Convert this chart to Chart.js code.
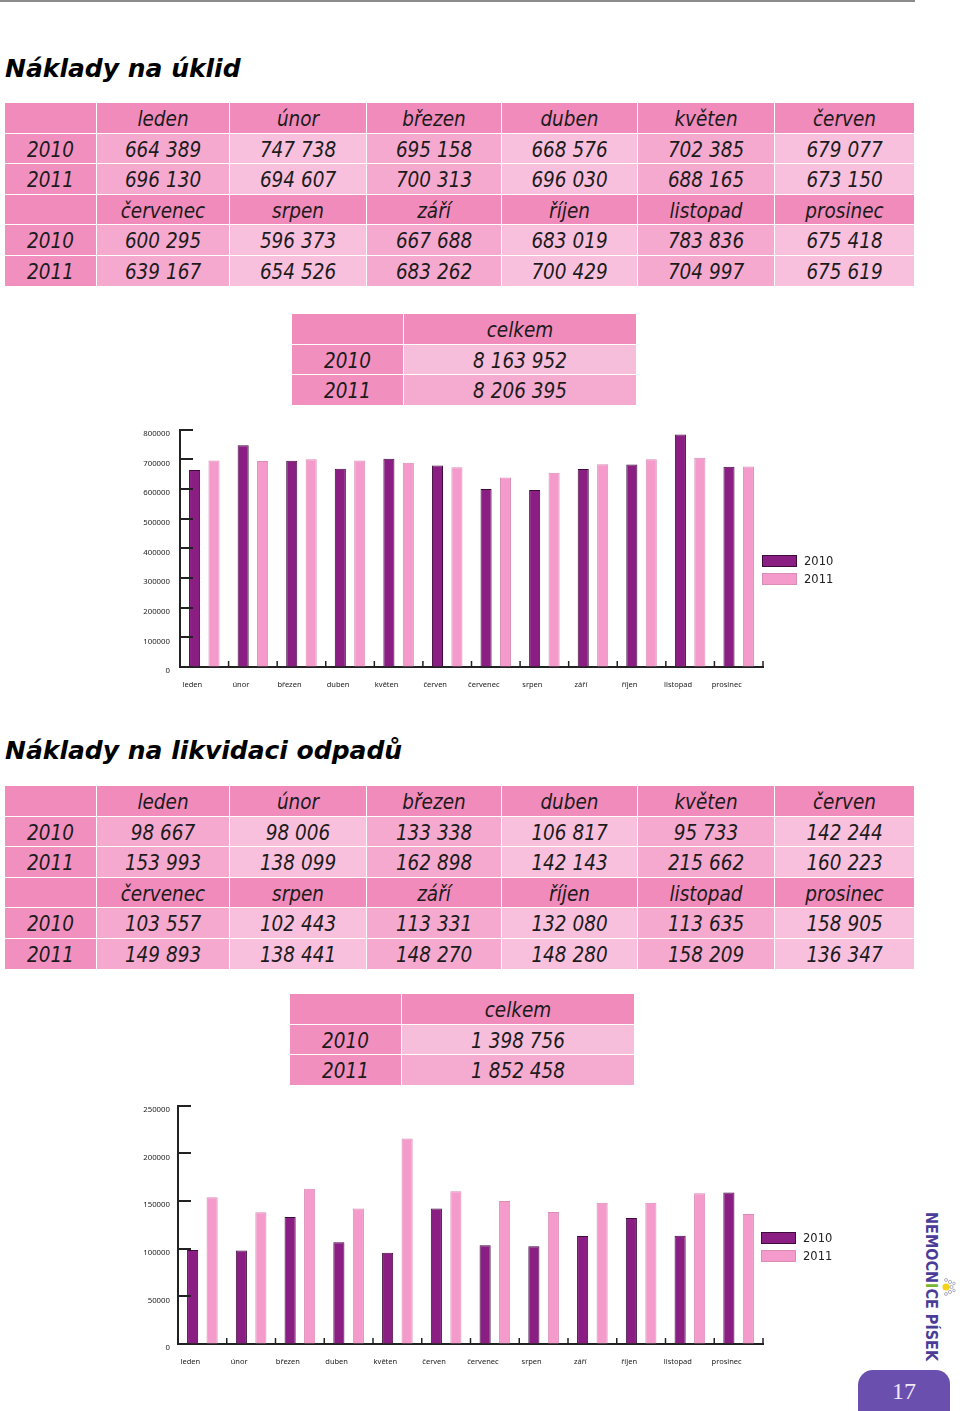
<!DOCTYPE html>
<html lang="cs">
<head>
<meta charset="utf-8">
<title>Náklady na úklid a likvidaci odpadů</title>
<script src="https://cdn.jsdelivr.net/npm/chart.js@4.4.1/dist/chart.umd.min.js"></script>
<style>
	html, body { margin: 0; padding: 0; background: #fff; }
	#page { position: relative; width: 960px; height: 1411px; overflow: hidden; }
	.topline { position: absolute; left: 0; top: 0; width: 915px; height: 1.5px; background: #8c8c8c; }
	h1 { position: absolute; left: 5px; margin: 0; font: italic bold 25px/30px "DejaVu Sans"; color: #000; white-space: nowrap; }
	.cell { position: absolute; box-sizing: border-box; text-align: center; white-space: nowrap; padding-top: 2px;
		font-family: "DejaVu Sans Condensed", "DejaVu Sans"; font-stretch: condensed; font-style: italic; font-size: 20.5px; color: #1c1c1c; }
	.chartBox { position: absolute; }
	.legend { position: absolute; font: 11.5px "DejaVu Sans"; color: #222; }
	.legend div { position: relative; height: 18px; }
	.legend span.sw { position: absolute; left: 0; top: 0; width: 35px; height: 12px; box-sizing: border-box; border: 1px solid; }
	.legend span.tx { position: absolute; left: 42px; top: -1px; line-height: 14px; }
	#logo { position: absolute; left: 922px; top: 1212px; writing-mode: vertical-rl; font: bold 16px/19px "DejaVu Sans Condensed", "DejaVu Sans";
		font-stretch: condensed; color: #4a3c98; white-space: nowrap; }
	#logo .green { color: #7ab631; }
	#sun { position: absolute; left: 940px; top: 1277px; }
	#pageNo { position: absolute; left: 858px; top: 1370px; width: 92px; height: 50px; background: #6a4fae; border-radius: 15px 14px 0 0;
		color: #eeeaf8; font: 24px/42px "Liberation Serif", serif; text-align: center; }
</style>
</head>
<body>
<div id="page">
	<div class="topline"></div>

	<h1 style="top:54px">Náklady na úklid</h1>
	<div id="uklidTable"></div>
	<div class="chartBox" style="left:130px; top:415px; width:640px; height:282px;"><canvas id="uklidChart"></canvas></div>
	<div class="legend" id="uklidLegend" style="left:762px; top:555px;"></div>

	<h1 style="top:736px">Náklady na likvidaci odpadů</h1>
	<div id="odpadTable"></div>
	<div class="chartBox" style="left:128px; top:1093px; width:642px; height:281px;"><canvas id="odpadChart"></canvas></div>
	<div class="legend" id="odpadLegend" style="left:761px; top:1232px;"></div>

	<div id="logo">NEMOCN<span class="green">I</span>CE PÍSEK</div>
	<svg id="sun" width="16" height="20" viewBox="0 0 16 20">
		<circle cx="6" cy="10" r="3.6" fill="#f4d21c"/>
		<circle cx="11.5" cy="10" r="1.6" fill="none" stroke="#9a9ab0" stroke-width="0.8"/>
		<circle cx="10" cy="5" r="1.6" fill="none" stroke="#9a9ab0" stroke-width="0.8"/>
		<circle cx="10" cy="15" r="1.6" fill="none" stroke="#9a9ab0" stroke-width="0.8"/>
		<circle cx="6" cy="3" r="1.5" fill="none" stroke="#9a9ab0" stroke-width="0.8"/>
		<circle cx="6" cy="17" r="1.5" fill="none" stroke="#9a9ab0" stroke-width="0.8"/>
		<circle cx="14" cy="6.5" r="1.3" fill="none" stroke="#9a9ab0" stroke-width="0.8"/>
		<circle cx="14" cy="13.5" r="1.3" fill="none" stroke="#9a9ab0" stroke-width="0.8"/>
	</svg>
	<div id="pageNo">17</div>
</div>

<script>
	// months and years
	const months = ['leden', 'únor', 'březen', 'duben', 'květen', 'červen', 'červenec', 'srpen', 'září', 'říjen', 'listopad', 'prosinec'];
	const years = ['2010', '2011'];

	// cleaning costs
	const uklid2010 = [664389, 747738, 695158, 668576, 702385, 679077, 600295, 596373, 667688, 683019, 783836, 675418];
	const uklid2011 = [696130, 694607, 700313, 696030, 688165, 673150, 639167, 654526, 683262, 700429, 704997, 675619];
	const uklidTicks = [0, 100000, 200000, 300000, 400000, 500000, 600000, 700000, 800000];

	// waste disposal costs
	const odpad2010 = [98667, 98006, 133338, 106817, 95733, 142244, 103557, 102443, 113331, 132080, 113635, 158905];
	const odpad2011 = [153993, 138099, 162898, 142143, 215662, 160223, 149893, 138441, 148270, 148280, 158209, 136347];
	const odpadTicks = [0, 50000, 100000, 150000, 200000, 250000];

	const color2010 = '#8b1e83', border2010 = '#3e0c3b';
	const color2011 = '#f49bcb', border2011 = '#d98db6';

	// 123456 -> "123 456"
	function fmt(v) {
		return String(v).replace(/\B(?=(\d{3})+(?!\d))/g, ' ');
	}
	function sum(arr) {
		return arr.reduce((a, b) => a + b, 0);
	}

	// one cell of a table
	function addCell(parent, x0, x1, y, h, text, bg) {
		const d = document.createElement('div');
		d.className = 'cell';
		d.style.left = x0 + 'px';
		d.style.top = y + 'px';
		d.style.width = (x1 - x0 - 1) + 'px';
		d.style.height = (h - 1) + 'px';
		d.style.lineHeight = (h - 1) + 'px';
		d.style.background = bg;
		d.textContent = text;
		parent.appendChild(d);
	}

	// month table (2 x 6 months) and total table
	function buildTables(el, top, totalTop, totalX, v2010, v2011) {
		const colX = [5, 97, 230, 367, 502, 638, 775, 915];
		const rowH = 30.6;
		let r = 0;
		for (let half = 0; half < 2; half++) {
			const from = half * 6;
			addCell(el, colX[0], colX[1], top + r * rowH, rowH, '', '#f18bbb');
			months.slice(from, from + 6).forEach((m, i) => addCell(el, colX[i + 1], colX[i + 2], top + r * rowH, rowH, m, '#f18bbb'));
			r++;
			[v2010, v2011].forEach((vals, yi) => {
				addCell(el, colX[0], colX[1], top + r * rowH, rowH, years[yi], '#f190bf');
				vals.slice(from, from + 6).forEach((v, i) => {
					addCell(el, colX[i + 1], colX[i + 2], top + r * rowH, rowH, fmt(v), i % 2 == 0 ? '#f5a9ce' : '#f8c0dc');
				});
				r++;
			});
		}
		// celkem
		addCell(el, totalX[0], totalX[1], totalTop, rowH, '', '#f18bbb');
		addCell(el, totalX[1], totalX[2], totalTop, rowH, 'celkem', '#f18bbb');
		addCell(el, totalX[0], totalX[1], totalTop + rowH, rowH, years[0], '#f190bf');
		addCell(el, totalX[1], totalX[2], totalTop + rowH, rowH, fmt(sum(v2010)), '#f7bedb');
		addCell(el, totalX[0], totalX[1], totalTop + 2 * rowH, rowH, years[1], '#f190bf');
		addCell(el, totalX[1], totalX[2], totalTop + 2 * rowH, rowH, fmt(sum(v2011)), '#f5aacf');
	}

	function buildLegend(el) {
		[[color2010, border2010], [color2011, border2011]].forEach((c, i) => {
			const row = document.createElement('div');
			row.innerHTML = '<span class="sw" style="background:' + c[0] + ';border-color:' + c[1] + '"></span><span class="tx">' + years[i] + '</span>';
			el.appendChild(row);
		});
	}

	buildTables(document.getElementById('uklidTable'), 103, 314, [292, 404, 637], uklid2010, uklid2011);
	buildTables(document.getElementById('odpadTable'), 786, 994, [290, 402, 635], odpad2010, odpad2011);
	buildLegend(document.getElementById('uklidLegend'));
	buildLegend(document.getElementById('odpadLegend'));

	// tick marks drawn inside the plot area
	const innerTicks = {
		id: 'innerTicks',
		afterDraw(chart) {
			const {ctx, scales: {x, y}} = chart;
			ctx.save();
			ctx.strokeStyle = '#222';
			ctx.lineWidth = 2;
			y.ticks.forEach(t => {
				const py = Math.round(y.getPixelForValue(t.value));
				ctx.beginPath();
				ctx.moveTo(x.left, py);
				ctx.lineTo(x.left + 13, py);
				ctx.stroke();
			});
			ctx.lineWidth = 1.5;
			for (let i = 1; i <= chart.data.labels.length; i++) {
				const px = x.getPixelForValue(i - 0.5);
				ctx.beginPath();
				ctx.moveTo(px, y.bottom);
				ctx.lineTo(px, y.bottom - 6);
				ctx.stroke();
			}
			ctx.restore();
		}
	};

	function makeChart(id, v2010, v2011, ticks, yWidth, labelPad) {
		const ctx = document.getElementById(id).getContext('2d');
		return new Chart(ctx, {
			type: 'bar',
			data: {
				labels: months,
				datasets: [
					{ label: years[0], data: v2010, backgroundColor: color2010, borderColor: border2010, borderWidth: 1 },
					{ label: years[1], data: v2011, backgroundColor: color2011, borderColor: border2011, borderWidth: 1 }
				]
			},
			options: {
				responsive: true,
				maintainAspectRatio: false,
				animation: false,
				categoryPercentage: 0.8,
				barPercentage: 0.57,
				layout: { padding: { top: 11, right: 7, left: 0, bottom: 0 } },
				plugins: {
					legend: { display: false },
					tooltip: { enabled: false }
				},
				scales: {
					x: {
						grid: { drawOnChartArea: false, drawTicks: false },
						border: { display: true, color: '#222', width: 2 },
						ticks: { font: { family: 'Noto Sans', size: 7.5 }, color: '#222', padding: 13, labelOffset: -12, autoSkip: false, maxRotation: 0 },
						afterFit(scale) { scale.height = 30; }
					},
					y: {
						min: ticks[0],
						max: ticks[ticks.length - 1],
						grid: { drawOnChartArea: false, drawTicks: false },
						border: { display: true, color: '#222', width: 2 },
						ticks: { font: { family: 'Noto Sans', size: 7.8 }, color: '#222', padding: labelPad, labelOffset: 4, callback: v => String(v) },
						afterBuildTicks(scale) { scale.ticks = ticks.map(v => ({ value: v })); },
						afterFit(scale) { scale.width = yWidth; }
					}
				}
			},
			plugins: [innerTicks]
		});
	}

	makeChart('uklidChart', uklid2010, uklid2011, uklidTicks, 50, 10);
	makeChart('odpadChart', odpad2010, odpad2011, odpadTicks, 50, 8);
</script>
</body>
</html>
